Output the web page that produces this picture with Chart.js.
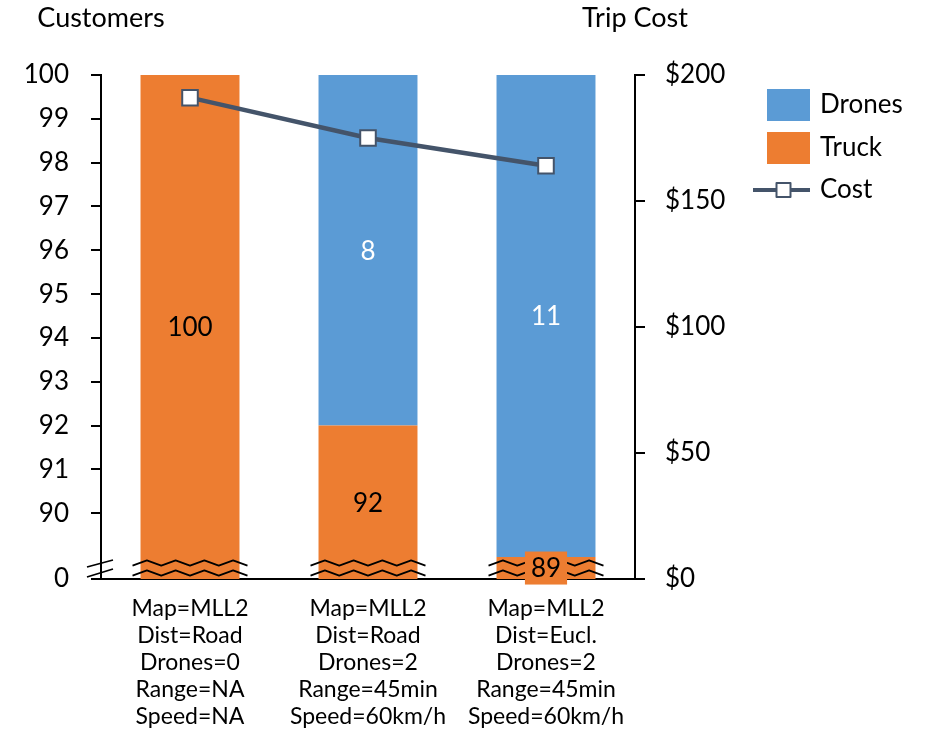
<!DOCTYPE html>
<html>
<head>
<meta charset="utf-8">
<script src="https://cdn.jsdelivr.net/npm/chart.js@4.4.1/dist/chart.umd.min.js"></script>
<style>
  html, body { margin: 0; padding: 0; background: #fff; }
  #wrap { width: 940px; height: 736px; }
</style>
</head>
<body>
<div id="wrap"><canvas id="c"></canvas></div>
<script>
// Scenario labels (one line per setting)
const categories = [
  ['Map=MLL2', 'Dist=Road', 'Drones=0', 'Range=NA', 'Speed=NA'],
  ['Map=MLL2', 'Dist=Road', 'Drones=2', 'Range=45min', 'Speed=60km/h'],
  ['Map=MLL2', 'Dist=Eucl.', 'Drones=2', 'Range=45min', 'Speed=60km/h']
];
// Customers served by each vehicle type
const truckCustomers = [100, 92, 89];
const droneCustomers = [0, 8, 11];
// Total trip cost in dollars
const tripCost = [191, 175, 164];
// Left axis ticks above the break, and the value where the axis is broken (labelled 0)
const customerTicks = [90, 91, 92, 93, 94, 95, 96, 97, 98, 99, 100];
const axisBreakValue = 88.5;
const axisBreakLabel = '0';
// Right axis ticks
const costTicks = [0, 50, 100, 150, 200];

const FONT = 'Lato, "Open Sans", sans-serif';
const ORANGE = '#ED7D31';
const BLUE = '#5B9BD5';
const SLATE = '#44546A';

function zigzag(ctx, x0, x1, y, amp, half) {
  const n = Math.max(2, Math.round((x1 - x0) / half));
  const step = (x1 - x0) / n;
  ctx.beginPath();
  for (let i = 0; i <= n; i++) {
    const yy = y + (i % 2 === 0 ? amp : -amp);
    if (i === 0) ctx.moveTo(x0, yy); else ctx.lineTo(x0 + i * step, yy);
  }
  ctx.stroke();
}

const decorations = {
  id: 'decorations',
  afterDraw(chart) {
    const { ctx, chartArea: a } = chart;
    ctx.save();

    // axis titles above each value axis
    ctx.fillStyle = '#000';
    ctx.font = `27px ${FONT}`;
    ctx.textAlign = 'center';
    ctx.textBaseline = 'middle';
    ctx.fillText('Customers', a.left, 18);
    ctx.fillText('Trip Cost', a.right, 18);

    // wavy break marks across the bottom of every column
    ctx.strokeStyle = '#000';
    ctx.lineWidth = 1.7;
    ctx.lineJoin = 'round';
    const truckMeta = chart.getDatasetMeta(1);
    truckMeta.data.forEach(bar => {
      const x0 = bar.x - bar.width / 2 - 8;
      const x1 = bar.x + bar.width / 2 + 8;
      zigzag(ctx, x0, x1, a.bottom - 16, 2.6, 14);
      zigzag(ctx, x0, x1, a.bottom - 6, 2.6, 14);
    });

    // slashes on the left axis marking the break
    ctx.lineWidth = 1.8;
    ctx.beginPath();
    ctx.moveTo(a.left - 14, a.bottom - 12); ctx.lineTo(a.left + 12, a.bottom - 19);
    ctx.moveTo(a.left - 14, a.bottom - 2);  ctx.lineTo(a.left + 12, a.bottom - 10);
    ctx.stroke();

    // value labels centred in the visible part of each segment
    ctx.font = `26px ${FONT}`;
    const labelColors = { 1: '#000', 2: '#fff' };
    [1, 2].forEach(di => {
      const ds = chart.data.datasets[di];
      chart.getDatasetMeta(di).data.forEach((el, i) => {
        const v = ds.data[i];
        if (!v) return;
        const top = Math.max(Math.min(el.y, el.base), a.top);
        const bottom = Math.min(Math.max(el.y, el.base), a.bottom);
        const cy = (top + bottom) / 2;
        const txt = String(v);
        if (bottom - top < 34) {
          const w = ctx.measureText(txt).width + 12;
          ctx.fillStyle = ds.backgroundColor;
          ctx.fillRect(el.x - w / 2, cy - 16.5, w, 33);
        }
        ctx.fillStyle = labelColors[di];
        ctx.fillText(txt, el.x, cy + 1);
      });
    });

    // legend
    const lx = a.right + 132;
    const tx = a.right + 185;
    ctx.textAlign = 'left';
    ctx.font = `26px ${FONT}`;
    const drones = chart.data.datasets[2], truck = chart.data.datasets[1], cost = chart.data.datasets[0];
    ctx.fillStyle = drones.backgroundColor;
    ctx.fillRect(lx, 89, 43, 32);
    ctx.fillStyle = '#000';
    ctx.fillText(drones.label, tx, 105);
    ctx.fillStyle = truck.backgroundColor;
    ctx.fillRect(lx, 132, 43, 32);
    ctx.fillStyle = '#000';
    ctx.fillText(truck.label, tx, 148);
    ctx.strokeStyle = cost.borderColor;
    ctx.lineWidth = 4;
    ctx.beginPath();
    ctx.moveTo(lx - 14, 190); ctx.lineTo(lx + 43, 190);
    ctx.stroke();
    ctx.fillStyle = '#fff';
    ctx.lineWidth = 2;
    ctx.fillRect(lx + 9.5, 183, 14, 14);
    ctx.strokeRect(lx + 9.5, 183, 14, 14);
    ctx.fillStyle = '#000';
    ctx.fillText(cost.label, tx, 190);

    ctx.restore();
  }
};

new Chart(document.getElementById('c'), {
  data: {
    labels: categories,
    datasets: [
      {
        type: 'line', label: 'Cost', data: tripCost, yAxisID: 'y2',
        borderColor: SLATE, borderWidth: 4.5, tension: 0,
        pointStyle: 'rect', pointRadius: 11, pointBackgroundColor: '#fff',
        pointBorderColor: SLATE, pointBorderWidth: 2, order: 0, clip: false
      },
      {
        type: 'bar', label: 'Truck', data: truckCustomers, yAxisID: 'y',
        backgroundColor: ORANGE, stack: 'customers', order: 1, clip: 0,
        barPercentage: 0.556, categoryPercentage: 1
      },
      {
        type: 'bar', label: 'Drones', data: droneCustomers, yAxisID: 'y',
        backgroundColor: BLUE, stack: 'customers', order: 1, clip: 0,
        barPercentage: 0.556, categoryPercentage: 1
      }
    ]
  },
  options: {
    responsive: true,
    maintainAspectRatio: false,
    animation: false,
    layout: { padding: { top: 75, left: 0, right: 0, bottom: 0 } },
    plugins: { legend: { display: false }, tooltip: { enabled: false } },
    scales: {
      x: {
        stacked: true,
        grid: { display: false, drawTicks: false },
        border: { display: true, color: '#000', width: 2 },
        ticks: {
          autoSkip: false, maxRotation: 0, padding: 16, color: '#000',
          font: { family: FONT, size: 23, lineHeight: 1.17 }
        },
        afterFit(s) { s.height = 157; }
      },
      y: {
        position: 'left', stacked: true, min: axisBreakValue, max: 100,
        afterBuildTicks(s) { s.ticks = [axisBreakValue, ...customerTicks].map(v => ({ value: v })); },
        ticks: {
          padding: 22, color: '#000', font: { family: FONT, size: 26 },
          callback: v => (v === axisBreakValue ? axisBreakLabel : String(v))
        },
        grid: { drawOnChartArea: false, drawTicks: true, tickLength: 10, color: '#000', lineWidth: 2 },
        border: { display: true, color: '#000', width: 2 },
        afterFit(s) { s.width = 101; }
      },
      y2: {
        position: 'right', min: 0, max: 200,
        afterBuildTicks(s) { s.ticks = costTicks.map(v => ({ value: v })); },
        ticks: {
          padding: 20, color: '#000', font: { family: FONT, size: 26 },
          callback: v => '$' + v
        },
        grid: { drawOnChartArea: false, drawTicks: true, tickLength: 10, color: '#000', lineWidth: 2 },
        border: { display: true, color: '#000', width: 2 },
        afterFit(s) { s.width = 305; }
      }
    }
  },
  plugins: [decorations]
});
</script>
</body>
</html>
